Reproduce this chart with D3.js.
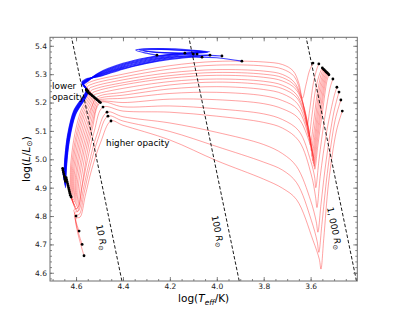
<!DOCTYPE html>
<html>
<head>
<meta charset="utf-8">
<script src="https://cdn.jsdelivr.net/npm/d3@7"></script>
<style>
  body { margin: 0; background: #fff; }
  svg text { font-family: "DejaVu Sans", sans-serif; }
</style>
</head>
<body>
<div id="chart"></div>
<script>
// tick labels
const xTicks = [4.6, 4.4, 4.2, 4.0, 3.8, 3.6];
const yTicks = [4.6, 4.7, 4.8, 4.9, 5.0, 5.1, 5.2, 5.3, 5.4];

// lines of constant radius (R_sun) and the log L where each label sits
const radii = [10, 100, 1000];
const radiusText = ["10", "100", "1, 000"];
const radiusLabelL = [4.733, 4.754, 4.765];

// red tracks, [logTeff, logL]: main sequence (ZAMS ... TAMS)
const redMS = [
  [[4.642,4.935],[4.628,4.895],[4.622,4.990],[4.605,5.090],[4.580,5.170],[4.546,5.234]],
  [[4.640,4.928],[4.625,4.888],[4.618,4.982],[4.600,5.083],[4.575,5.165],[4.541,5.231]],
  [[4.638,4.921],[4.622,4.880],[4.614,4.974],[4.596,5.076],[4.570,5.160],[4.536,5.228]],
  [[4.636,4.914],[4.619,4.872],[4.610,4.966],[4.591,5.069],[4.565,5.155],[4.531,5.224]],
  [[4.634,4.907],[4.616,4.864],[4.606,4.958],[4.586,5.062],[4.559,5.150],[4.526,5.221]],
  [[4.632,4.900],[4.612,4.856],[4.601,4.950],[4.581,5.055],[4.553,5.145],[4.521,5.217]],
  [[4.630,4.893],[4.609,4.848],[4.597,4.942],[4.576,5.048],[4.547,5.140],[4.516,5.214]],
  [[4.628,4.886],[4.606,4.840],[4.592,4.934],[4.570,5.041],[4.542,5.135],[4.511,5.210]],
  [[4.626,4.879],[4.602,4.832],[4.587,4.926],[4.565,5.034],[4.537,5.128],[4.506,5.207]],
  [[4.624,4.873],[4.598,4.824],[4.581,4.916],[4.560,5.024],[4.533,5.120],[4.501,5.203]],
  [[4.621,4.867],[4.595,4.816],[4.575,4.905],[4.555,5.012],[4.530,5.110],[4.496,5.200]],
  [[4.600,4.800],[4.609,4.822],[4.592,4.830],[4.575,4.900],[4.552,4.995],[4.522,5.100],[4.485,5.184]],
  [[4.587,4.747],[4.606,4.812],[4.589,4.818],[4.570,4.890],[4.545,4.985],[4.512,5.085],[4.468,5.166]],
  [[4.574,4.700],[4.603,4.802],[4.586,4.806],[4.566,4.880],[4.540,4.975],[4.505,5.075],[4.464,5.152]],
  [[4.566,4.660],[4.600,4.792],[4.583,4.796],[4.561,4.870],[4.533,4.965],[4.495,5.060],[4.451,5.135]]
];

// red tracks after the TAMS, out to the red supergiant end point
const redPost = [
  [[4.558,5.262],[4.535,5.274],[4.40,5.300],[4.20,5.330],[4.00,5.345],[3.80,5.343],[3.72,5.334],[3.675,5.312],[3.650,5.268],[3.635,5.215],[3.620,5.262],[3.605,5.312],[3.590,5.339]],
  [[4.552,5.255],[4.528,5.266],[4.40,5.290],[4.20,5.318],[4.00,5.332],[3.80,5.329],[3.72,5.318],[3.670,5.292],[3.640,5.225],[3.624,5.158],[3.615,5.120],[3.603,5.180],[3.588,5.270],[3.572,5.322],[3.565,5.336]],
  [[4.545,5.248],[4.520,5.258],[4.40,5.280],[4.20,5.305],[4.00,5.316],[3.80,5.311],[3.72,5.299],[3.668,5.270],[3.632,5.195],[3.615,5.118],[3.607,5.080],[3.595,5.150],[3.578,5.250],[3.560,5.305],[3.550,5.322]],
  [[4.538,5.240],[4.513,5.250],[4.40,5.270],[4.20,5.295],[4.00,5.306],[3.80,5.300],[3.72,5.288],[3.665,5.258],[3.625,5.175],[3.608,5.088],[3.601,5.050],[3.589,5.120],[3.572,5.230],[3.555,5.300],[3.546,5.318]],
  [[4.531,5.233],[4.507,5.242],[4.40,5.262],[4.20,5.286],[4.00,5.296],[3.80,5.289],[3.72,5.276],[3.662,5.246],[3.620,5.155],[3.602,5.068],[3.597,5.030],[3.585,5.100],[3.568,5.220],[3.550,5.296],[3.542,5.315]],
  [[4.524,5.226],[4.500,5.233],[4.40,5.250],[4.20,5.274],[4.00,5.283],[3.80,5.275],[3.72,5.261],[3.660,5.228],[3.616,5.135],[3.598,5.048],[3.594,5.010],[3.581,5.090],[3.564,5.210],[3.546,5.292],[3.538,5.312]],
  [[4.494,5.225],[4.40,5.236],[4.20,5.262],[4.00,5.272],[3.80,5.263],[3.72,5.249],[3.658,5.216],[3.612,5.115],[3.595,5.033],[3.591,4.995],[3.578,5.080],[3.560,5.200],[3.542,5.288],[3.534,5.308]],
  [[4.488,5.218],[4.40,5.226],[4.20,5.248],[4.00,5.256],[3.80,5.246],[3.72,5.231],[3.656,5.196],[3.609,5.095],[3.592,5.023],[3.588,4.985],[3.575,5.070],[3.556,5.190],[3.538,5.285],[3.530,5.305]],
  [[4.480,5.212],[4.40,5.215],[4.20,5.232],[4.00,5.236],[3.80,5.224],[3.72,5.207],[3.654,5.175],[3.606,5.075],[3.589,5.013],[3.585,4.975],[3.572,5.060],[3.553,5.180],[3.534,5.282],[3.526,5.302]],
  [[4.470,5.205],[4.40,5.200],[4.20,5.212],[4.00,5.210],[3.80,5.196],[3.72,5.178],[3.652,5.145],[3.603,5.055],[3.586,5.003],[3.582,4.965],[3.569,5.050],[3.549,5.170],[3.530,5.278],[3.522,5.298]],
  [[4.40,5.185],[4.20,5.188],[4.00,5.178],[3.80,5.160],[3.72,5.140],[3.650,5.100],[3.600,4.995],[3.583,4.938],[3.578,4.900],[3.564,5.000],[3.541,5.140],[3.516,5.255],[3.505,5.283]],
  [[4.40,5.170],[4.20,5.166],[4.00,5.152],[3.80,5.130],[3.72,5.110],[3.650,5.065],[3.597,4.945],[3.579,4.868],[3.573,4.830],[3.559,4.940],[3.531,5.100],[3.499,5.225],[3.488,5.254]],
  [[4.40,5.150],[4.20,5.128],[4.00,5.095],[3.80,5.052],[3.72,5.020],[3.660,4.975],[3.600,4.855],[3.576,4.780],[3.569,4.743],[3.556,4.840],[3.533,5.000],[3.500,5.170],[3.479,5.237]],
  [[4.40,5.135],[4.20,5.098],[4.00,5.045],[3.80,4.990],[3.72,4.962],[3.660,4.918],[3.597,4.785],[3.572,4.710],[3.565,4.672],[3.552,4.770],[3.529,4.950],[3.495,5.140],[3.471,5.209]],
  [[4.40,5.120],[4.20,5.068],[4.00,4.995],[3.80,4.930],[3.72,4.898],[3.660,4.858],[3.590,4.715],[3.563,4.648],[3.556,4.613],[3.544,4.720],[3.523,4.920],[3.490,5.100],[3.465,5.170]]
];

// blue tracks: main sequence
const blueMS = [
  [[4.657,4.968],[4.652,4.935],[4.648,5.000],[4.636,5.085],[4.610,5.170],[4.556,5.246]],
  [[4.656,4.962],[4.651,4.930],[4.647,4.996],[4.635,5.082],[4.609,5.168],[4.555,5.244]],
  [[4.654,4.955],[4.650,4.925],[4.646,4.992],[4.634,5.079],[4.608,5.166],[4.554,5.243]],
  [[4.652,4.948],[4.649,4.920],[4.645,4.988],[4.633,5.076],[4.607,5.164],[4.553,5.242]],
  [[4.650,4.941],[4.648,4.915],[4.644,4.984],[4.632,5.073],[4.606,5.162],[4.552,5.241]],
  [[4.648,4.935],[4.647,4.910],[4.643,4.980],[4.631,5.070],[4.605,5.160],[4.551,5.240]],
  [[4.647,4.928],[4.646,4.905],[4.642,4.976],[4.630,5.067],[4.604,5.158],[4.550,5.239]],
  [[4.645,4.922],[4.645,4.900],[4.641,4.972],[4.629,5.064],[4.603,5.156],[4.549,5.238]]
];

// blue tracks after the TAMS (the last three swing back in a blue loop)
const bluePost = [
  [[4.575,5.272],[4.560,5.282],[4.50,5.292],[4.40,5.318],[4.30,5.338],[4.20,5.352],[4.10,5.360],[4.00,5.358],[3.893,5.346]],
  [[4.574,5.270],[4.558,5.280],[4.50,5.294],[4.40,5.320],[4.30,5.340],[4.20,5.355],[4.10,5.363],[4.03,5.366],[3.978,5.364]],
  [[4.573,5.268],[4.557,5.279],[4.50,5.296],[4.40,5.323],[4.30,5.343],[4.20,5.358],[4.10,5.366],[4.029,5.367]],
  [[4.572,5.267],[4.556,5.278],[4.50,5.298],[4.40,5.326],[4.30,5.346],[4.20,5.360],[4.12,5.364],[4.063,5.360]],
  [[4.571,5.266],[4.555,5.277],[4.50,5.300],[4.40,5.329],[4.30,5.349],[4.20,5.363],[4.13,5.370],[4.084,5.371]],
  [[4.570,5.265],[4.554,5.276],[4.50,5.302],[4.40,5.332],[4.30,5.352],[4.20,5.366],[4.10,5.374],[4.04,5.377],[4.12,5.386],[4.25,5.390],[4.33,5.386],[4.28,5.379],[4.19,5.375],[4.100,5.371]],
  [[4.569,5.264],[4.553,5.275],[4.50,5.304],[4.40,5.335],[4.30,5.356],[4.20,5.369],[4.08,5.377],[4.03,5.379],[4.12,5.383],[4.24,5.387],[4.315,5.384],[4.27,5.378],[4.136,5.374]],
  [[4.568,5.263],[4.552,5.274],[4.50,5.306],[4.40,5.338],[4.30,5.358],[4.20,5.370],[4.10,5.376],[4.05,5.378],[4.15,5.384],[4.28,5.389],[4.345,5.385],[4.30,5.374],[4.255,5.367]]
];

const logTsun = 3.7617; // log10(5772 K)

const W = 397, H = 317;
const margin = {top: 37.3, right: 39.7, bottom: 36, left: 50};

const svg = d3.select("#chart").append("svg")
    .attr("width", W)
    .attr("height", H);

// x runs hot -> cool, like any HR diagram
const x = d3.scaleLinear().domain([4.711, 3.401]).range([margin.left, W - margin.right]);
const y = d3.scaleLinear().domain([4.571, 5.430]).range([H - margin.bottom, margin.top]);

svg.append("clipPath").attr("id", "plot")
    .append("rect")
    .attr("x", margin.left).attr("y", margin.top)
    .attr("width", W - margin.left - margin.right)
    .attr("height", H - margin.top - margin.bottom);

const plot = svg.append("g").attr("clip-path", "url(#plot)");

const line = d3.line()
    .x(d => x(d[0]))
    .y(d => y(d[1]))
    .curve(d3.curveCatmullRom.alpha(0.5));

// red tracks first, blue on top
plot.append("g")
    .selectAll("path")
    .data(redMS.map((ms, i) => ms.concat(redPost[i])))
    .enter().append("path")
    .attr("d", line)
    .attr("fill", "none")
    .attr("stroke", "#ff1f1f")
    .attr("stroke-opacity", 0.55)
    .attr("stroke-width", 0.75);

plot.append("g")
    .selectAll("path")
    .data(blueMS.map((ms, i) => ms.concat(bluePost[i])))
    .enter().append("path")
    .attr("d", line)
    .attr("fill", "none")
    .attr("stroke", "#0000ff")
    .attr("stroke-opacity", 0.75)
    .attr("stroke-width", 1.2);

// dashed lines of constant radius: log L = 2 log R + 4 (log T - log Tsun)
const tAt = (R, L) => logTsun + (L - 2 * Math.log10(R)) / 4;
const [L0, L1] = y.domain();

plot.append("g")
    .selectAll("line")
    .data(radii)
    .enter().append("line")
    .attr("x1", R => x(tAt(R, L0)))
    .attr("y1", y(L0))
    .attr("x2", R => x(tAt(R, L1)))
    .attr("y2", y(L1))
    .attr("stroke", "#000")
    .attr("stroke-width", 0.9)
    .attr("stroke-dasharray", "3.5,2");

// black dots: ZAMS, TAMS and final model of every track
const dots = [];
redMS.concat(blueMS).forEach(ms => { dots.push(ms[0]); dots.push(ms[ms.length - 1]); });
redPost.concat(bluePost).forEach(p => dots.push(p[p.length - 1]));

plot.append("g")
    .selectAll("circle")
    .data(dots)
    .enter().append("circle")
    .attr("cx", d => x(d[0]))
    .attr("cy", d => y(d[1]))
    .attr("r", 1.4)
    .attr("fill", "#000");

// labels along the radius lines
radii.forEach((R, i) => {
    const L = radiusLabelL[i];
    const T = tAt(R, L);
    const dx = x(tAt(R, L - 1)) - x(T), dy = y(L - 1) - y(L);
    const n = Math.hypot(dx, dy), ux = dx / n, uy = dy / n;
    const ang = Math.atan2(dy, dx) * 180 / Math.PI;
    const off = 14;
    const px = x(T) - off * uy, py = y(L) + off * ux;
    const t = svg.append("text")
        .attr("transform", `translate(${px},${py}) rotate(${ang})`)
        .attr("text-anchor", "middle")
        .style("font-size", "9px")
        .attr("fill", "#000");
    t.append("tspan").text(radiusText[i] + " ");
    t.append("tspan").style("font-style", "italic").text("R");
    t.append("tspan").attr("dy", 2).style("font-size", "6.5px").text("⊙");
});

// annotations
svg.append("text").attr("x", x(4.702)).attr("y", y(5.249))
    .style("font-size", "8.8px").text("lower");
svg.append("text").attr("x", x(4.702)).attr("y", y(5.210))
    .style("font-size", "8.8px").text("opacity");
svg.append("text").attr("x", x(4.472)).attr("y", y(5.048))
    .style("font-size", "8.8px").text("higher opacity");

// axes: inward ticks on all four sides
const minorX = d3.range(3.45, 4.71, 0.05).map(v => +v.toFixed(2));
const minorY = d3.range(4.58, 5.43, 0.02).map(v => +v.toFixed(2));
const fmt = d3.format(".1f");

function styleAxis(g) {
    g.select(".domain").remove();
    g.selectAll(".tick line").attr("stroke", "#666").attr("stroke-width", 0.8);
    g.selectAll(".tick text").attr("fill", "#222").style("font-size", "7.5px");
}

const bottom = H - margin.bottom, right = W - margin.right;

svg.append("g").attr("transform", `translate(0,${bottom})`)
    .call(d3.axisBottom(x).tickValues(minorX).tickSize(-2).tickFormat(""))
    .call(styleAxis);
svg.append("g").attr("transform", `translate(0,${bottom})`)
    .call(d3.axisBottom(x).tickValues(xTicks).tickSize(-4).tickPadding(3).tickFormat(fmt))
    .call(styleAxis);
svg.append("g").attr("transform", `translate(0,${margin.top})`)
    .call(d3.axisTop(x).tickValues(minorX).tickSize(-2).tickFormat(""))
    .call(styleAxis);
svg.append("g").attr("transform", `translate(0,${margin.top})`)
    .call(d3.axisTop(x).tickValues(xTicks).tickSize(-4).tickFormat(""))
    .call(styleAxis);

svg.append("g").attr("transform", `translate(${margin.left},0)`)
    .call(d3.axisLeft(y).tickValues(minorY).tickSize(-2).tickFormat(""))
    .call(styleAxis);
svg.append("g").attr("transform", `translate(${margin.left},0)`)
    .call(d3.axisLeft(y).tickValues(yTicks).tickSize(-4).tickPadding(3).tickFormat(fmt))
    .call(styleAxis);
svg.append("g").attr("transform", `translate(${right},0)`)
    .call(d3.axisRight(y).tickValues(minorY).tickSize(-2).tickFormat(""))
    .call(styleAxis);
svg.append("g").attr("transform", `translate(${right},0)`)
    .call(d3.axisRight(y).tickValues(yTicks).tickSize(-4).tickFormat(""))
    .call(styleAxis);

// frame
svg.append("rect")
    .attr("x", margin.left).attr("y", margin.top)
    .attr("width", right - margin.left)
    .attr("height", bottom - margin.top)
    .attr("fill", "none")
    .attr("stroke", "#6e6e6e")
    .attr("stroke-width", 1);

// axis titles
const xl = svg.append("text")
    .attr("x", (margin.left + right) / 2)
    .attr("y", 302)
    .attr("text-anchor", "middle")
    .style("font-size", "10.5px");
xl.append("tspan").text("log(");
xl.append("tspan").style("font-style", "italic").text("T");
xl.append("tspan").attr("dy", 2.5).style("font-style", "italic").style("font-size", "7.5px").text("eff");
xl.append("tspan").attr("dy", -2.5).text("/K)");

const yl = svg.append("text")
    .attr("transform", `translate(29.5,${(margin.top + bottom) / 2}) rotate(-90)`)
    .attr("text-anchor", "middle")
    .style("font-size", "10.5px");
yl.append("tspan").text("log(");
yl.append("tspan").style("font-style", "italic").text("L");
yl.append("tspan").text("/");
yl.append("tspan").style("font-style", "italic").text("L");
yl.append("tspan").attr("dy", 2.5).style("font-size", "7.5px").text("⊙");
yl.append("tspan").attr("dy", -2.5).text(")");
</script>
</body>
</html>
